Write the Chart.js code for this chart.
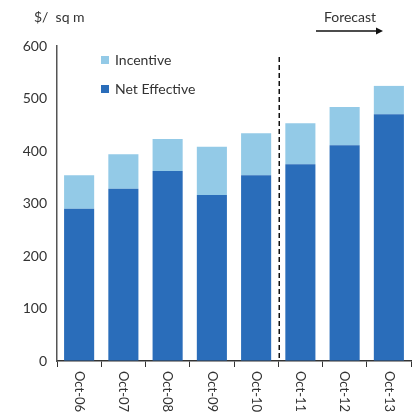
<!DOCTYPE html>
<html>
<head>
<meta charset="utf-8">
<script src="https://cdn.jsdelivr.net/npm/chart.js@4"></script>
<style>
  html, body { margin: 0; padding: 0; background: #fff; }
  #wrap { width: 415px; height: 412px; position: relative; }
</style>
</head>
<body>
<div id="wrap"><canvas id="rentChart" width="415" height="412"></canvas></div>
<script>
// Datos
const categories = ['Oct-06', 'Oct-07', 'Oct-08', 'Oct-09', 'Oct-10', 'Oct-11', 'Oct-12', 'Oct-13'];
const netEffective = [290, 328, 362, 316, 354, 375, 411, 470];
const incentive = [64, 66, 61, 92, 80, 78, 73, 54];
const yTicks = [0, 100, 200, 300, 400, 500, 600];
const forecastStart = 'Oct-11';

const FONT = 'Lato, sans-serif';
const TEXT = '#333333';
const DARK = '#2A6DBA';
const LIGHT = '#93CAE7';

// Etiquetas, leyenda y marca de pronóstico
const extras = {
  id: 'extras',
  afterDraw(chart) {
    const ctx = chart.ctx;
    const x = chart.scales.x;
    const y = chart.scales.y;
    ctx.save();

    // etiquetas del eje x giradas hacia abajo
    ctx.fillStyle = TEXT;
    ctx.font = '13px ' + FONT;
    ctx.textAlign = 'left';
    ctx.textBaseline = 'middle';
    categories.forEach((c, i) => {
      const px = x.getPixelForValue(i);
      ctx.save();
      ctx.translate(px, y.bottom + 10);
      ctx.rotate(Math.PI / 2);
      ctx.fillText(c, 0, 0);
      ctx.restore();
    });

    // unidad
    ctx.font = '14px ' + FONT;
    ctx.textBaseline = 'middle';
    ctx.fillText('$/  sq m', 34, 17);

    // leyenda
    const legend = [['Incentive', LIGHT, 60], ['Net Effective', DARK, 89]];
    legend.forEach(([label, color, ly]) => {
      ctx.fillStyle = color;
      ctx.fillRect(101, ly - 4, 8, 8);
      ctx.fillStyle = TEXT;
      ctx.fillText(label, 115, ly);
    });

    // línea discontinua entre real y pronóstico
    const fi = categories.indexOf(forecastStart);
    const lx = (x.getPixelForValue(fi - 1) + x.getPixelForValue(fi)) / 2 + 1;
    ctx.strokeStyle = '#111';
    ctx.lineWidth = 1.5;
    ctx.setLineDash([5, 3]);
    ctx.beginPath();
    ctx.moveTo(lx, y.top + 11);
    ctx.lineTo(lx, y.bottom);
    ctx.stroke();
    ctx.setLineDash([]);

    // Forecast + flecha
    ctx.textAlign = 'center';
    ctx.fillStyle = TEXT;
    ctx.fillText('Forecast', 350, 17);
    ctx.strokeStyle = '#111';
    ctx.lineWidth = 1.3;
    ctx.beginPath();
    ctx.moveTo(316, 31);
    ctx.lineTo(378, 31);
    ctx.stroke();
    ctx.fillStyle = '#111';
    ctx.beginPath();
    ctx.moveTo(383, 31);
    ctx.lineTo(376, 27.5);
    ctx.lineTo(376, 34.5);
    ctx.closePath();
    ctx.fill();

    ctx.restore();
  }
};

new Chart(document.getElementById('rentChart'), {
  type: 'bar',
  data: {
    labels: categories,
    datasets: [
      { label: 'Net Effective', data: netEffective, backgroundColor: DARK, categoryPercentage: 1, barPercentage: 0.68 },
      { label: 'Incentive', data: incentive, backgroundColor: LIGHT, categoryPercentage: 1, barPercentage: 0.68 }
    ]
  },
  options: {
    responsive: false,
    animation: false,
    layout: { padding: { top: 46, right: 4, left: 0, bottom: 0 } },
    plugins: { legend: { display: false }, tooltip: { enabled: false } },
    scales: {
      x: {
        stacked: true,
        grid: { drawOnChartArea: false, drawTicks: true, tickLength: 6, color: '#333' },
        border: { color: '#333', width: 1.5 },
        ticks: { display: false },
        afterFit(s) { s.height = 51; }
      },
      y: {
        stacked: true,
        min: 0,
        max: 600,
        afterBuildTicks(s) { s.ticks = yTicks.map(v => ({ value: v })); },
        grid: { drawOnChartArea: false, drawTicks: false },
        border: { color: '#555', width: 1.5 },
        ticks: { color: TEXT, font: { family: FONT, size: 14 }, padding: 10 },
        afterFit(s) { s.width = 57; }
      }
    }
  },
  plugins: [extras]
});
</script>
</body>
</html>
